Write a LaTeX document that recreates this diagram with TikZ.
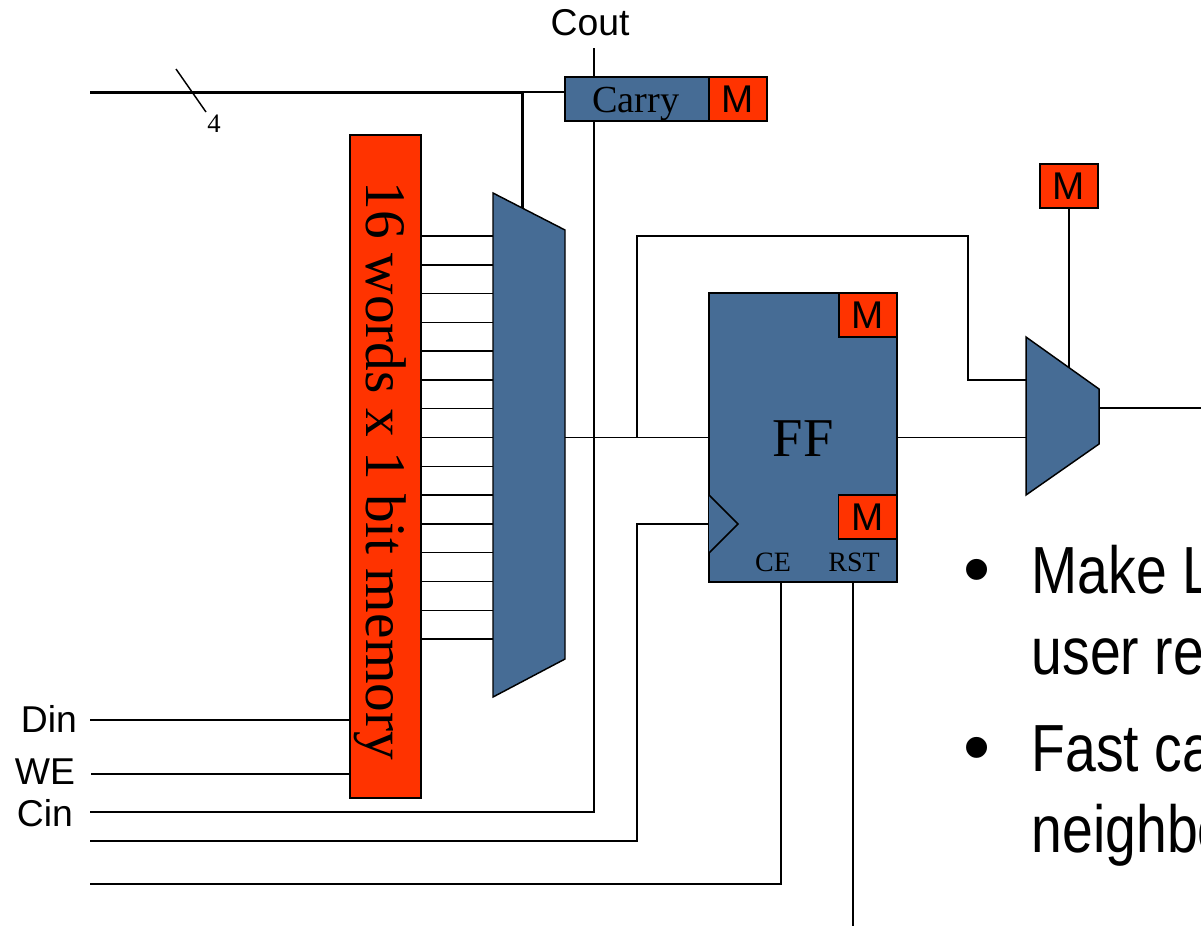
\documentclass[tikz,border=0pt]{standalone}
\usepackage{fontspec}
\setmainfont{Liberation Serif}
\setsansfont{Liberation Sans}
\newfontfamily\narrowfont[FakeStretch=0.83]{Liberation Sans}
\usetikzlibrary{positioning}
\definecolor{lutblue}{HTML}{466C95}
\definecolor{cfgred}{HTML}{FF3300}

\begin{document}
\begin{tikzpicture}[
  x=0.75pt, y=-0.75pt,
  line width=1.1pt,
  wire/.style={line width=1.1pt},
  bus/.style={line width=2.25pt},
  block/.style={draw, fill=lutblue, outer sep=0pt, inner sep=0pt},
  cfg/.style={draw, fill=cfgred, outer sep=0pt, inner sep=0pt, minimum width=43.5pt,
              minimum height=33pt, font=\sffamily\fontsize{29}{29}\selectfont},
  muxframe/.style={outer sep=0pt, inner sep=0pt},
  pin/.style={inner sep=0pt, font=\sffamily\fontsize{28}{28}\selectfont},
  port/.style={inner sep=0pt, font=\fontsize{21}{21}\selectfont},
  point/.style={anchor=base west, inner sep=0pt, font=\narrowfont\fontsize{50}{50}\selectfont},
  dot/.style={inner sep=0pt, font=\sffamily\fontsize{58}{58}\selectfont}
]
\useasboundingbox (0,0) rectangle (1201,926);
\clip (0,0) rectangle (1201,926);

% free ends
\coordinate (busin) at (90,92);
\coordinate (busturn) at (522,92);
\coordinate (busend) at (522,210);
\coordinate (slashtop) at (176,69);
\coordinate (slashend) at (206,112);
\coordinate (coutend) at (594,48);
\coordinate (dinin) at (90,720);
\coordinate (wein) at (91,774);
\coordinate (cinin) at (90,812);
\coordinate (clkin) at (90,841);
\coordinate (cein) at (90,884);
\coordinate (rstin) at (853,926);
\coordinate (cepin) at (781,582);
\coordinate (rstpin) at (853,582);
\coordinate (clkpin) at (709,524);
\coordinate (branch) at (637,437);
\coordinate (bypasstop) at (968,236);
\coordinate (bypassin) at (1026,380);
\coordinate (outend) at (1201,408);
\coordinate (selpin) at (1069,368);

% wires go under the blocks
\node[cfg, minimum width=53.25pt, minimum height=497.25pt] (ram) at (385.5,466.5) {};
\node[block, minimum width=108pt, minimum height=33pt] (carry) at (637,99) {};
\node[block, minimum width=141pt, minimum height=216.75pt] (ff) at (803,437.5) {};
\node[muxframe, minimum width=54pt, minimum height=378pt] (lutmux) at (529,445) {};
\node[muxframe, minimum width=54.75pt, minimum height=118.5pt] (ffmux) at (1062.5,416) {};

\draw[bus] (busin) -- (busturn) -- (busend);
\draw[wire] (slashtop) -- (slashend);
\draw[wire] (busturn) -- (carry.west |- busturn);
\draw[wire] (coutend) -- (coutend |- carry.north);
\draw[wire] (coutend |- carry.south) |- (cinin);
\draw[wire] (dinin) -- (ram.west |- dinin);
\draw[wire] (wein) -- (ram.west |- wein);
\draw[wire] (clkin) -| (branch |- clkpin) -- (clkpin);
\draw[wire] (cepin) |- (cein);
\draw[wire] (rstpin) -- (rstin);
\draw[wire] (branch) |- (bypasstop) |- (bypassin);

\draw[block] (lutmux.north west) -- (lutmux.east |- 0,230) -- (lutmux.east |- 0,659) -- (lutmux.south west) -- cycle;
\draw[block] (ffmux.north west) -- (ffmux.east |- 0,389) -- (ffmux.east |- 0,444) -- (ffmux.south west) -- cycle;
\foreach \i in {0,...,14}
  \draw[wire] (ram.east |- 0,236+\i*28.79) -- (lutmux.west |- 0,236+\i*28.79);
\draw[wire] (lutmux.east |- ff.west) -- (ff.west);
\draw[wire] (ff.east) -- (ffmux.west |- ff.east);
\draw[wire] (ffmux.east |- outend) -- (outend);

% configuration bits
\node[cfg, right=0pt of carry] (carrym) {M};
\node[cfg, below left=0pt of ff.north east] (ffm) {M};
\node[cfg] (rstm) at (867.75,517) {M};
\node[cfg] (muxm) at (1069,186) {M};
\draw[wire] (muxm) -- (selpin);

\draw[block] (ff.west |- 0,495) -- (738,524) -- (ff.west |- 0,553);

% labels
\node[rotate=-90, inner sep=0pt, font=\fontsize{43}{43}\selectfont] (ramlabel) at (380,471) {16 words x 1 bit memory};
\node[inner sep=0pt, font=\fontsize{28.7}{28.7}\selectfont] (carrylabel) at (636,104) {Carry};
\node[inner sep=0pt, font=\fontsize{41}{41}\selectfont] (fflabel) at (803,438.5) {FF};
\node[port] (celabel) at (773,562) {CE};
\node[port] (rstlabel) at (854,562) {RST};
\node[inner sep=0pt, font=\fontsize{20}{20}\selectfont] (buswidth) at (214,124) {4};
\node[pin] (coutlabel) at (590,23) {Cout};
\node[pin] (dinlabel) at (49,719) {Din};
\node[pin] (welabel) at (45,772) {WE};
\node[pin] (cinlabel) at (45,813) {Cin};

% text running off the right edge
\node[dot] (dotone) at (977,577) {•};
\node[point] (makeline) at (1031,593) {Make L};
\node[point] (userline) at (1031,674) {user re};
\node[dot] (dottwo) at (977,755) {•};
\node[point] (fastline) at (1031,771) {Fast ca};
\node[point] (neighline) at (1031,852) {neighbo};
\end{tikzpicture}
\end{document}
